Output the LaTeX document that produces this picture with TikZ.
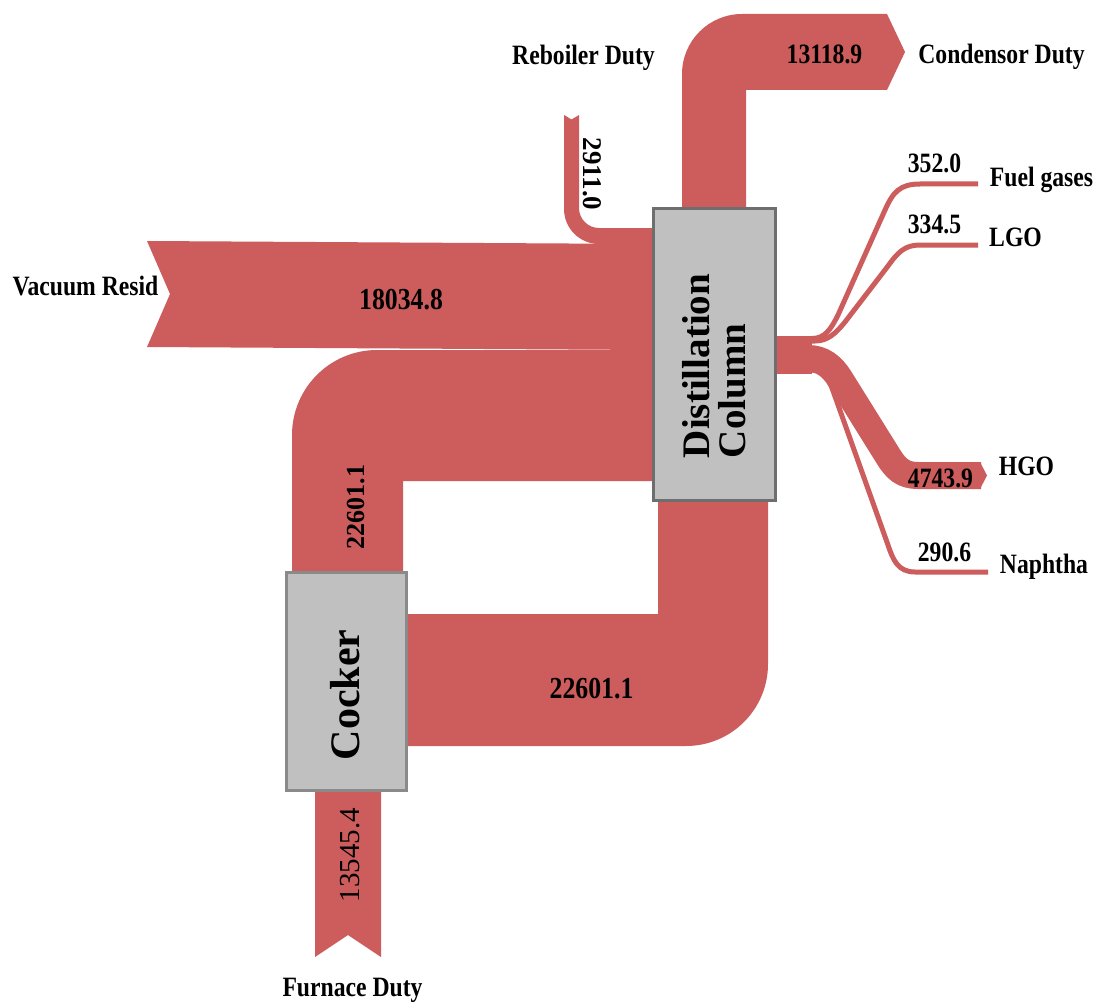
\documentclass[tikz,border=0pt]{standalone}
\usepackage{fontspec}
\setmainfont{Liberation Serif}
\newfontfamily\narrowserif[FakeStretch=0.845]{Liberation Serif}
\definecolor{flowred}{HTML}{CD5C5C}
\definecolor{unitfill}{HTML}{C0C0C0}
\definecolor{colborder}{HTML}{6E6E6E}
\definecolor{cokborder}{HTML}{8A8A8A}

\begin{document}
\begin{tikzpicture}[x=1pt,y=-1pt,
  flowband/.style={fill=flowred},
  thinband/.style={draw=flowred, line width=5pt},
  unitbox/.style={fill=unitfill, line width=3pt, inner sep=0pt},
  streamname/.style={font=\narrowserif\bfseries\fontsize{28}{30}\selectfont, inner sep=0pt, anchor=base},
  streamval/.style={font=\narrowserif\bfseries\fontsize{28}{30}\selectfont, inner sep=0pt, anchor=base},
  bigval/.style={font=\narrowserif\bfseries\fontsize{30.5}{32}\selectfont, inner sep=0pt, anchor=base},
  vertval/.style={font=\bfseries\fontsize{27}{29}\selectfont, inner sep=0pt},
  unitlabel/.style={font=\bfseries\fontsize{39}{36}\selectfont, inner sep=0pt, align=left, rotate=90},
]
\fill[white] (0,0) rectangle (1102,1003);
\useasboundingbox (0,0) rectangle (1102,1003);

% ---- heat and material flows ----
% condensor duty (column top -> right)
\fill[flowband] (682,208) -- (682,74) .. controls (682,40.9) and (708.9,14) .. (742,14)
  -- (887,14) -- (905,52) -- (887,90) -- (746,90) -- (746,208) -- cycle;
% reboiler duty (into column)
\fill[flowband] (564,115) -- (571.5,119.5) -- (579,115) -- (579,208)
  .. controls (579,219) and (588,228) .. (599,228) -- (653,228) -- (653,244)
  -- (599,244) .. controls (579.7,244) and (564,228.3) .. (564,209) -- cycle;
% vacuum resid feed
\fill[flowband] (147,241) -- (653,244) -- (653,350) -- (147,347) -- (170,294) -- cycle;
% coker vapour back to column
\fill[flowband] (292,572) -- (292,435) .. controls (292,388.1) and (330.1,350) .. (377,350)
  -- (653,350) -- (653,481) -- (403,481) -- (403,572) -- cycle;
% column bottoms to coker
\fill[flowband] (658,500) -- (768,500) -- (768,664) .. controls (768,709.3) and (731.3,746) .. (686,746)
  -- (407,746) -- (407,614) -- (658,614) -- cycle;
% furnace duty
\fill[flowband] (315,790) -- (381,790) -- (381,957) -- (348,935) -- (315,957) -- cycle;

% column side draws
\fill[flowband] (775,336) rectangle (812,374);
\draw[thinband] (790,338.5) -- (812,338.5) .. controls (825,338.5) and (831,329) .. (838,315)
  -- (885,210) .. controls (893,192) and (900,184) .. (920,184) -- (978,184);
\draw[thinband] (790,341) -- (815,341) .. controls (828,341) and (836,333) .. (845,322)
  -- (888,266) .. controls (898,252) and (905,245) .. (920,245) -- (978,245);
\draw[thinband] (790,370) -- (815,370) .. controls (825,370) and (828,378) .. (832,388)
  -- (888,545) .. controls (893,560) and (898,572) .. (915,572) -- (988,572);
\draw[flowred, line width=27pt] (785,358.5) -- (808,358.5) .. controls (822,358.5) and (832,366) .. (840,379)
  -- (888,456) .. controls (896,469) and (903,475.5) .. (918,475.5) -- (981,475.5);
\fill[flowband] (980,462) -- (987,475.5) -- (980,489) -- cycle;

% ---- process units ----
\node[unitbox, draw=colborder, minimum width=122pt, minimum height=292pt] (dist) at (714.5,354.5) {};
\node[unitbox, draw=cokborder, minimum width=120pt, minimum height=218pt] (coker) at (346.5,681.5) {};
\node[unitlabel] (distlbl) at (714.5,366) {Distillation\\Column};
\node[unitlabel, font=\bfseries\fontsize{42}{40}\selectfont] (cokerlbl) at (345,695) {Cocker};

% ---- stream names ----
\node[streamname] (nreb) at (583.5,65) {Reboiler Duty};
\node[streamname] (ncond) at (1001.5,64) {Condensor Duty};
\node[streamname] (nvac) at (85.5,295) {Vacuum Resid};
\node[streamname] (nfurn) at (352.5,996) {Furnace Duty};
\node[streamname] (nfuel) at (1041.5,186) {Fuel gases};
\node[streamname] (nlgo) at (1015.5,246) {LGO};
\node[streamname] (nhgo) at (1026.5,475) {HGO};
\node[streamname] (nnap) at (1044,573) {Naphtha};

% ---- stream values ----
\node[streamval] (vcond) at (824.5,64) {13118.9};
\node[bigval] (vvac) at (401,309) {18034.8};
\node[bigval] (vbot) at (591.5,698) {22601.1};
\node[streamval] (vfuel) at (934.5,173) {352.0};
\node[streamval] (vlgo) at (934.5,233) {334.5};
\node[streamval] (vhgo) at (940.5,487) {4743.9};
\node[streamval] (vnap) at (944.5,561) {290.6};
\node[vertval, rotate=-90] (vreb) at (592.5,174) {2911.0};
\node[vertval, rotate=90, font=\bfseries\fontsize{26}{28}\selectfont] (vup) at (356.5,507) {22601.1};
\node[vertval, rotate=90, font=\mdseries\fontsize{29}{31}\selectfont] (vfurn) at (350,855) {13545.4};
\end{tikzpicture}
\end{document}
